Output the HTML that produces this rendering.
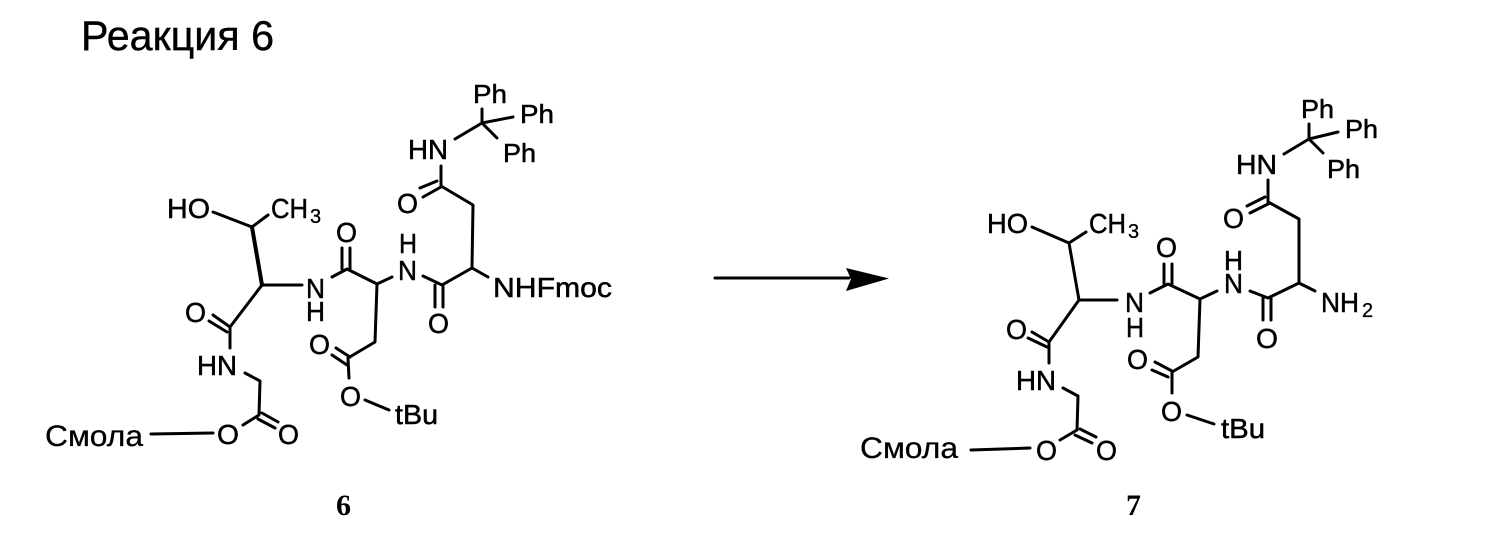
<!DOCTYPE html>
<html><head><meta charset="utf-8">
<style>
html,body{margin:0;padding:0;background:#fff;width:1488px;height:544px;overflow:hidden}
svg{display:block}
text{font-family:"Liberation Sans",sans-serif;font-size:27.5px;fill:#000;stroke:#000;stroke-width:.5px}
.p{font-size:26px}
.r{font-size:30px;stroke-width:.3px}
.b{font-family:"Liberation Serif",serif;font-weight:700;font-size:30px;stroke:none}
.s{font-size:20px;stroke-width:.3px}
path{fill:none;stroke:#000;stroke-width:3;stroke-linecap:round;stroke-linejoin:round}
</style></head><body>
<svg width="1488" height="544" viewBox="0 0 1488 544" xmlns="http://www.w3.org/2000/svg">
<text x="81" y="50" style="font-size:42px;stroke-width:.4px" textLength="193" lengthAdjust="spacingAndGlyphs">Реакция 6</text>

<!-- Molecule 6 -->
<path d="M482 123L482 109M482 123L513 117M482 123L497 138M482 123L455 139
M441 166L441 186L473 205L472 268L488 277M472 268L442 285L423 276
M420 188L437 181M423 197L441 187
M435 285V307M443 285V307
M392 277L377 284L347 269L332 277M342 248V269M350 248V269
M377 284L375 342L348 358L349 378M332 355L347 365M336 348L350 357
M365 400L389 410
M262 285H302M252 227L213 212M252 227L268 215
M262 285L230 327V348M209 321L227 332M213 315L230 327
M245 373L260 381L259 415L243 425M262 413L278 422M258 419L275 428
M151 434L213 433"/>
<path d="M262 285L252 227" style="stroke-width:4"/>
<text class="p" x="473" y="103" textLength="34" lengthAdjust="spacingAndGlyphs">Ph</text>
<text class="p" x="520" y="123" textLength="34" lengthAdjust="spacingAndGlyphs">Ph</text>
<text class="p" x="503" y="162" textLength="33" lengthAdjust="spacingAndGlyphs">Ph</text>
<text x="408" y="159" textLength="40" lengthAdjust="spacingAndGlyphs">HN</text>
<text x="397" y="213" textLength="21" lengthAdjust="spacingAndGlyphs">O</text>
<text x="336" y="242" textLength="21" lengthAdjust="spacingAndGlyphs">O</text>
<text x="399" y="253" textLength="18" lengthAdjust="spacingAndGlyphs">H</text>
<text x="398" y="280" textLength="19" lengthAdjust="spacingAndGlyphs">N</text>
<text x="493" y="297" textLength="119" lengthAdjust="spacingAndGlyphs">NHFmoc</text>
<text x="167" y="218" textLength="43" lengthAdjust="spacingAndGlyphs">HO</text>
<text x="271" y="218" textLength="37" lengthAdjust="spacingAndGlyphs">CH</text>
<text x="310" y="223" class="s">3</text>
<text x="306" y="298" textLength="19" lengthAdjust="spacingAndGlyphs">N</text>
<text x="306" y="321" textLength="19" lengthAdjust="spacingAndGlyphs">H</text>
<text x="428" y="333" textLength="21" lengthAdjust="spacingAndGlyphs">O</text>
<text x="185" y="322" textLength="21" lengthAdjust="spacingAndGlyphs">O</text>
<text x="309" y="354" textLength="21" lengthAdjust="spacingAndGlyphs">O</text>
<text x="197" y="375" textLength="40" lengthAdjust="spacingAndGlyphs">HN</text>
<text x="340" y="406" textLength="21" lengthAdjust="spacingAndGlyphs">O</text>
<text x="395" y="424" textLength="43" lengthAdjust="spacingAndGlyphs">tBu</text>
<text x="217" y="444" textLength="22" lengthAdjust="spacingAndGlyphs">O</text>
<text x="278" y="444" textLength="21" lengthAdjust="spacingAndGlyphs">O</text>
<text class="r" x="45" y="446" textLength="98" lengthAdjust="spacingAndGlyphs">Смола</text>
<text x="336" y="515" class="b">6</text>

<!-- Arrow -->
<path d="M715 278H849"/>
<polygon points="846,268 889,278.5 846,291 851,279" fill="#000"/>

<!-- Molecule 7 -->
<path d="M1309 139V124M1309 139L1338 132M1309 139L1323 153M1309 139L1284 154
M1268 180V202L1270 203L1299 219V283L1315 291M1299 283L1268 298L1250 291
M1247 206L1265 197M1250 213L1270 203
M1263 298V320M1271 298V320
M1217 291L1200 299L1168 284L1150 293M1164 264V284M1172 264V284
M1200 299L1198 357L1172 372V393M1152 370L1168 377M1155 362L1172 371
M1187 415L1214 424
M1079 300H1117M1079 300L1069 243L1032 227M1069 243L1086 232
M1079 300L1049 342V363M1028 338L1047 347M1032 332L1049 342
M1063 388L1078 396L1077 430L1060 440M1080 429L1096 437M1075 435L1092 443
M971 450L1030 448"/>
<text class="p" x="1301" y="118" textLength="33" lengthAdjust="spacingAndGlyphs">Ph</text>
<text class="p" x="1345" y="138" textLength="33" lengthAdjust="spacingAndGlyphs">Ph</text>
<text class="p" x="1327" y="178" textLength="33" lengthAdjust="spacingAndGlyphs">Ph</text>
<text x="1236" y="174" textLength="41" lengthAdjust="spacingAndGlyphs">HN</text>
<text x="1223" y="228" textLength="21" lengthAdjust="spacingAndGlyphs">O</text>
<text x="1156" y="257" textLength="21" lengthAdjust="spacingAndGlyphs">O</text>
<text x="1224" y="270" textLength="19" lengthAdjust="spacingAndGlyphs">H</text>
<text x="1224" y="293" textLength="19" lengthAdjust="spacingAndGlyphs">N</text>
<text x="1321" y="312" textLength="38" lengthAdjust="spacingAndGlyphs">NH</text>
<text x="1362" y="317" class="s">2</text>
<text x="987" y="233" textLength="41" lengthAdjust="spacingAndGlyphs">HO</text>
<text x="1089" y="233" textLength="37" lengthAdjust="spacingAndGlyphs">CH</text>
<text x="1128" y="238" class="s">3</text>
<text x="1125" y="312" textLength="19" lengthAdjust="spacingAndGlyphs">N</text>
<text x="1126" y="337" textLength="18" lengthAdjust="spacingAndGlyphs">H</text>
<text x="1256" y="348" textLength="22" lengthAdjust="spacingAndGlyphs">O</text>
<text x="1006" y="339" textLength="21" lengthAdjust="spacingAndGlyphs">O</text>
<text x="1127" y="369" textLength="21" lengthAdjust="spacingAndGlyphs">O</text>
<text x="1016" y="390" textLength="40" lengthAdjust="spacingAndGlyphs">HN</text>
<text x="1161" y="421" textLength="21" lengthAdjust="spacingAndGlyphs">O</text>
<text x="1221" y="438" textLength="44" lengthAdjust="spacingAndGlyphs">tBu</text>
<text x="1036" y="460" textLength="21" lengthAdjust="spacingAndGlyphs">O</text>
<text x="1096" y="460" textLength="21" lengthAdjust="spacingAndGlyphs">O</text>
<text class="r" x="860" y="458" textLength="98" lengthAdjust="spacingAndGlyphs">Смола</text>
<text x="1126" y="515" class="b">7</text>
</svg>
</body></html>
